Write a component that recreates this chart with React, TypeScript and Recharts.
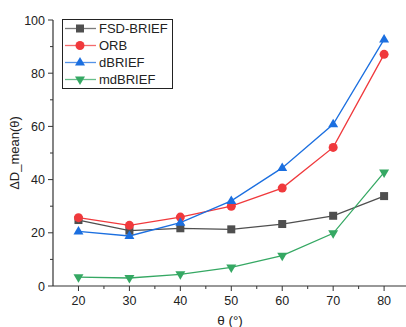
import { Line, LineChart, XAxis, YAxis } from "recharts";

const thetas = [20, 30, 40, 50, 60, 70, 80];
const fsdBrief = [24.8, 20.8, 21.7, 21.3, 23.3, 26.4, 33.8];
const orb = [25.7, 22.8, 25.9, 30.0, 36.8, 52.1, 87.1];
const dBrief = [20.5, 18.8, 23.8, 32.0, 44.4, 60.8, 92.7];
const mdBrief = [3.3, 3.0, 4.4, 7.0, 11.4, 19.8, 42.7];

const xTicks = [20, 25, 30, 35, 40, 45, 50, 55, 60, 65, 70, 75, 80];
const yTicks = [0, 10, 20, 30, 40, 50, 60, 70, 80, 90, 100];

const FONT = "'Liberation Sans', Arial, sans-serif";
const AXIS = "#333";

type Shape = "square" | "circle" | "up" | "down";

const series: { key: string; name: string; color: string; shape: Shape }[] = [
  { key: "fsd", name: "FSD-BRIEF", color: "#4f4f4f", shape: "square" },
  { key: "orb", name: "ORB", color: "#f0393c", shape: "circle" },
  { key: "dbrief", name: "dBRIEF", color: "#1b6fe0", shape: "up" },
  { key: "mdbrief", name: "mdBRIEF", color: "#35a863", shape: "down" },
];

const data = thetas.map((t, i) => ({
  theta: t,
  fsd: fsdBrief[i],
  orb: orb[i],
  dbrief: dBrief[i],
  mdbrief: mdBrief[i],
}));

function Marker({ cx, cy, shape, color }: { cx: number; cy: number; shape: Shape; color: string }) {
  if (shape === "square") {
    return <rect x={cx - 4} y={cy - 4} width={8} height={8} fill={color} />;
  }
  if (shape === "circle") {
    return <circle cx={cx} cy={cy} r={4.5} fill={color} />;
  }
  if (shape === "up") {
    return (
      <path
        d={`M${cx},${cy - 5.5} L${cx + 5},${cy + 3} L${cx - 5},${cy + 3} Z`}
        fill={color}
      />
    );
  }
  return (
    <path
      d={`M${cx},${cy + 5.5} L${cx + 5},${cy - 3} L${cx - 5},${cy - 3} Z`}
      fill={color}
    />
  );
}

function makeDot(shape: Shape, color: string) {
  return (props: any) => {
    const { cx, cy, index } = props;
    if (cx == null || cy == null) return <g key={`d${index}`} />;
    return (
      <g key={`d${index}`}>
        <Marker cx={cx} cy={cy} shape={shape} color={color} />
      </g>
    );
  };
}

function XTick(props: any) {
  const { x, y, payload } = props;
  const major = payload.value % 10 === 0;
  return (
    <g>
      <line x1={x} x2={x} y1={y} y2={y + (major ? 5 : 3)} stroke={AXIS} />
      {major && (
        <text x={x} y={y + 19} textAnchor="middle" fontSize={12.5} fontFamily={FONT} fill="#222">
          {payload.value}
        </text>
      )}
    </g>
  );
}

function YTick(props: any) {
  const { x, y, payload } = props;
  const major = payload.value % 20 === 0;
  return (
    <g>
      <line x1={x} x2={x - (major ? 5 : 3)} y1={y} y2={y} stroke={AXIS} />
      {major && (
        <text x={x - 8} y={y + 4.5} textAnchor="end" fontSize={12.5} fontFamily={FONT} fill="#222">
          {payload.value}
        </text>
      )}
    </g>
  );
}

function LegendBox() {
  return (
    <div
      style={{
        position: "absolute",
        left: 62,
        top: 19,
        border: "1px solid #222",
        background: "#fff",
        width: 111,
        height: 70,
        boxSizing: "border-box",
        padding: "0 0 0 1px",
      }}
    >
      {series.map((s) => (
        <div key={s.key} style={{ display: "flex", alignItems: "center", height: 17 }}>
          <svg width={33} height={17}>
            <line x1={1} x2={32} y1={8.5} y2={8.5} stroke={s.color} strokeOpacity={0.75} strokeWidth={1.3} />
            <Marker cx={16} cy={8.5} shape={s.shape} color={s.color} />
          </svg>
          <span style={{ fontFamily: FONT, fontSize: 13, color: "#222", marginLeft: 2 }}>{s.name}</span>
        </div>
      ))}
    </div>
  );
}

export default function App() {
  return (
    <div style={{ position: "absolute", left: 0, top: 0, width: 406, height: 327, background: "#fff" }}>
      <LineChart width={406} height={327} data={data} margin={{ top: 20, right: 0, left: 0, bottom: 0 }}>
        <XAxis
          dataKey="theta"
          type="number"
          domain={[15, 84.3]}
          ticks={xTicks}
          interval={0}
          height={41}
          tickSize={0}
          tickMargin={0}
          tickLine={false}
          axisLine={{ stroke: AXIS, strokeWidth: 1.2 }}
          tick={<XTick />}
          allowDataOverflow
        />
        <YAxis
          type="number"
          domain={[0, 100]}
          ticks={yTicks}
          interval={0}
          width={53}
          tickSize={0}
          tickMargin={0}
          tickLine={false}
          axisLine={{ stroke: AXIS, strokeWidth: 1.2 }}
          tick={<YTick />}
        />
        {series.map((s) => (
          <Line
            key={s.key}
            dataKey={s.key}
            name={s.name}
            stroke={s.color}
            strokeWidth={1.3}
            dot={makeDot(s.shape, s.color)}
            activeDot={false}
            isAnimationActive={false}
          />
        ))}
        <text
          x={14}
          y={153}
          transform="rotate(-90 14 153)"
          textAnchor="middle"
          dominantBaseline="central"
          fontSize={13}
          fontFamily={FONT}
          fill="#222"
        >
          ΔD_mean(θ)
        </text>
        <text x={230} y={325} textAnchor="middle" fontSize={13.5} fontFamily={FONT} fill="#222">
          θ (°)
        </text>
      </LineChart>
      <LegendBox />
    </div>
  );
}
